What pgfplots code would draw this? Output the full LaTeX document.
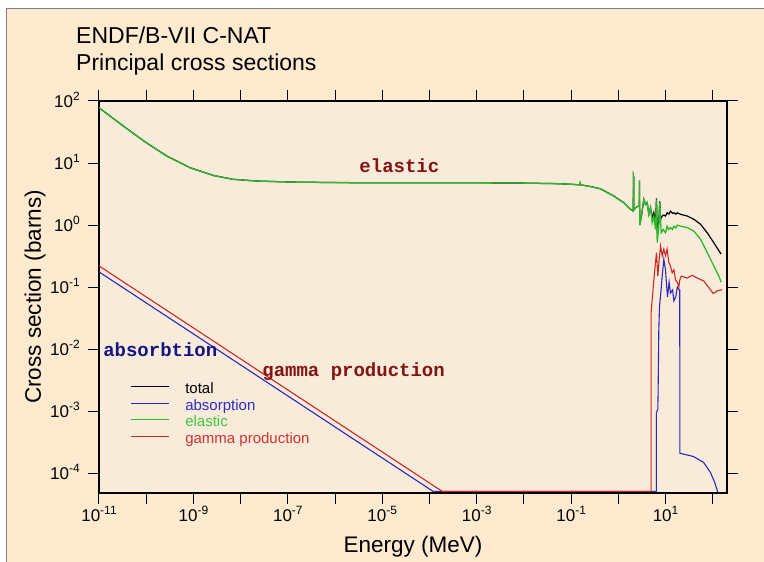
\documentclass[border=0pt]{standalone}
\usepackage{pgfplots}
\pgfplotsset{compat=1.18}
\usepackage{fontspec}
\setmainfont{Liberation Sans}
\newfontfamily\courb{Liberation Mono}
\definecolor{outerbg}{RGB}{253,234,207}
\definecolor{innerbg}{RGB}{249,235,218}
\definecolor{cblue}{RGB}{40,40,190}
\definecolor{cred}{RGB}{205,40,40}
\definecolor{cgreen}{RGB}{45,185,45}
\definecolor{lblue}{RGB}{45,45,200}
\definecolor{lgreen}{RGB}{60,200,60}
\definecolor{lred}{RGB}{210,50,50}
\definecolor{maroon}{RGB}{130,20,20}
\definecolor{navy}{RGB}{20,20,130}
\newcommand{\tl}[1]{10\raisebox{6.5pt}{\fontsize{12}{12}\selectfont #1}}
\begin{document}
\begin{tikzpicture}[x=1pt,y=1pt]
\useasboundingbox (0,0) rectangle (764,562);
\fill[white] (0,0) rectangle (764,562);
\fill[outerbg] (6,0) rectangle (764,553);
\draw[gray,line width=1pt] (6,0) -- (6,553) -- (764,553);
\node[anchor=base west, inner sep=0pt, font=\fontsize{23}{27}\selectfont] at (76,518) {ENDF/B-VII C-NAT};
\node[anchor=base west, inner sep=0pt, font=\fontsize{23}{27}\selectfont] at (76,491) {Principal cross sections};
\node[anchor=base, inner sep=0pt, font=\fontsize{22.5}{27}\selectfont] at (413,9) {Energy (MeV)};
\node[anchor=base, rotate=90, inner sep=0pt, font=\fontsize{22.5}{27}\selectfont] at (41,265) {Cross section (barns)};
\begin{axis}[
  at={(99pt,69pt)}, anchor=south west,
  scale only axis, width=628pt, height=392pt,
  xmode=log, ymode=log,
  xmin=1e-11, xmax=2e2, ymin=4.8e-5, ymax=100,
  axis background/.style={fill=innerbg},
  axis line style={line width=1.8pt},
  tick align=outside, major tick length=11pt,
  every tick/.style={black, line width=1pt},
  xminorticks=false, yminorticks=false,
  xtick={1e-11,1e-10,1e-9,1e-8,1e-7,1e-6,1e-5,1e-4,1e-3,1e-2,1e-1,1,10,100},
  xticklabels={{\tl{-11}},{},{\tl{-9}},{},{\tl{-7}},{},{\tl{-5}},{},{\tl{-3}},{},{\tl{-1}},{},{\tl{1}},{}},
  ytick={1e-4,1e-3,1e-2,1e-1,1,10,100},
  yticklabels={{\tl{-4}},{\tl{-3}},{\tl{-2}},{\tl{-1}},{\tl{0}},{\tl{1}},{\tl{2}}},
  tick label style={font=\fontsize{17}{19}\selectfont},
  xticklabel style={anchor=north, text height=12.2pt, text depth=0pt, inner sep=0pt, yshift=-5pt},
  yticklabel style={anchor=east, text height=12.2pt, text depth=0pt, inner sep=0pt, xshift=-8pt},
  legend style={draw=none, fill=none, at={(rel axis cs:0.0505,0.284)}, anchor=north west,
    font=\fontsize{15}{17}\selectfont, inner sep=0pt, row sep=0pt, /tikz/column sep=14pt,
    nodes={inner sep=1.3pt, text height=10.5pt, text depth=3.5pt}},
  legend cell align=left,
  legend image code/.code={\draw[#1, line width=1.1pt] (0pt,3.5pt) -- (38pt,3.5pt);},
]
\addplot[black, line width=1.2pt] coordinates {
(1e-11,78) (3.27e-11,39.5) (1e-10,21.3) (2.72e-10,13) (8.5e-10,8.4) (2.65e-9,6.3) (7e-9,5.46) (2.2e-8,5.13) (1.12e-7,4.94) (1.3e-6,4.83) (1e-4,4.82) (1e-3,4.80) (1e-2,4.75) (5e-2,4.65) (0.1,4.55) (0.15,4.45) (0.16,4.45) (0.25,4.2) (0.418,3.85) (0.8,2.94) (1.3,2.3) (1.81,1.79) (2.07,1.68) (2.09,6.2) (2.11,6.0) (2.13,1.75) (2.31,1.9) (2.58,2.0) (2.78,2.05) (2.80,5.2) (2.84,1.0) (3.09,1.4) (3.46,2.6) (3.76,2.15) (4.08,2.3) (4.42,1.49) (4.80,1.9)
(5.21,1.3) (5.64,1.6) (6.12,1.1) (6.43,2.7) (6.65,0.75) (7.19,1.15) (7.55,2.4) (7.82,1.24) (8.49,1.4) (9.18,1.45) (9.98,1.4) (10.8,1.58) (11.7,1.5) (12.7,1.68) (14,1.55) (15.0,1.58) (16.5,1.5) (17.7,1.58) (20.8,1.49) (28.8,1.4) (39.7,1.24) (55.1,1.03) (76.4,0.75) (105,0.52) (150,0.34)
};
\addlegendentry{total}
\addplot[cblue, line width=1.1pt] coordinates {
(1e-11,0.176) (1.19e-4,5.1e-5) (6.38,5.1e-5) (6.40,9.6e-4) (6.85,1.07e-3) (6.95,2e-3) (7.19,0.02) (7.45,0.05) (7.82,0.072) (8.49,0.15) (9.18,0.28) (9.98,0.19) (10.4,0.12) (11.0,0.07) (11.9,0.12) (12.7,0.08) (14.1,0.09) (15.0,0.06) (16.5,0.07) (17.7,0.10) (19.5,0.09) (20.0,0.09) (20.05,2.1e-4) (39,1.86e-4) (64,1.49e-4) (89,1.03e-4) (110,7.1e-5) (128,4.9e-5)
};
\addlegendentry{\textcolor{lblue}{absorption}}
\addplot[cgreen, line width=1.3pt] coordinates {
(1e-11,78) (3.27e-11,39.5) (1e-10,21.3) (2.72e-10,13) (8.5e-10,8.4) (2.65e-9,6.3) (7e-9,5.46) (2.2e-8,5.13) (1.12e-7,4.94) (1.3e-6,4.83) (1e-4,4.82) (1e-3,4.80) (1e-2,4.75) (5e-2,4.65) (0.1,4.55) (0.15,4.45) (0.155,4.9) (0.16,4.45) (0.25,4.2) (0.418,3.85) (0.8,2.94) (1.3,2.3) (1.81,1.79) (2.07,1.68) (2.09,6.2) (2.11,6.0) (2.13,1.75) (2.31,1.9) (2.58,2.0) (2.78,2.05) (2.80,5.2) (2.84,1.0) (3.09,1.4) (3.46,2.6) (3.76,2.15) (4.08,2.3) (4.42,1.49) (4.80,1.9) (5.21,1.09) (5.64,1.4) (6.12,0.85) (6.43,2.6) (6.65,0.52) (7.19,0.96) (7.55,2.3) (8.09,0.75) (8.91,0.85) (9.98,0.75) (10.8,0.96) (11.7,0.85) (12.7,0.91) (14,0.85) (15.0,0.96) (16.5,0.9) (17.7,1.0) (20.8,0.96) (28.8,0.91) (39.7,0.80) (55.1,0.59) (76.4,0.36) (105,0.22) (135,0.15) (150,0.12)
};
\addlegendentry{\textcolor{lgreen}{elastic}}
\addplot[cred, line width=1.1pt] coordinates {
(1e-11,0.22) (1.86e-4,5.1e-5) (4.95,5.1e-5) (4.96,0.04) (5.21,0.063) (5.64,0.13) (6.12,0.25) (6.43,0.36) (6.85,0.15) (7.34,0.28) (7.82,0.46) (8.49,0.32) (9.18,0.41) (9.98,0.32) (10.8,0.41) (11.7,0.25) (12.7,0.22) (13.8,0.17) (15.0,0.19) (16.3,0.13) (17.7,0.12) (19.1,0.10) (20.0,0.13) (21.5,0.15) (28.8,0.14) (36.7,0.155) (46.9,0.14) (64.7,0.125) (82.6,0.098) (102,0.079) (124,0.087) (159,0.091)
};
\addlegendentry{\textcolor{lred}{gamma production}}
\node[anchor=base, inner sep=0pt, font={\fontsize{19}{21}\courb\bfseries}, text=maroon] at (axis cs:2.3e-5,7.0) {elastic};
\node[anchor=base west, inner sep=0pt, font={\fontsize{19}{21}\courb\bfseries}, text=navy] at (axis cs:1.22e-11,7.6e-3) {absorbtion};
\node[anchor=base west, inner sep=0pt, font={\fontsize{19}{21}\courb\bfseries}, text=maroon] at (axis cs:2.86e-8,3.63e-3) {gamma production};
\end{axis}
\end{tikzpicture}
\end{document}
